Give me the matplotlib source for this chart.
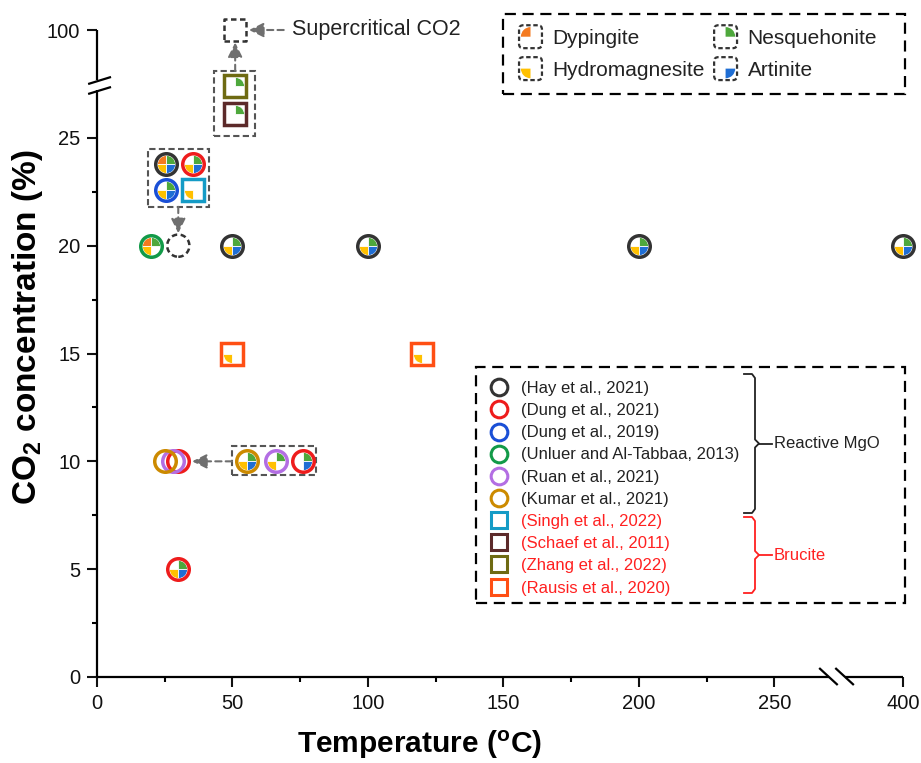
import numpy as np
import matplotlib
matplotlib.use("Agg")
import matplotlib.pyplot as plt
from matplotlib.path import Path
from matplotlib.lines import Line2D
from matplotlib.patches import Rectangle, Wedge, FancyBboxPatch
from matplotlib.legend_handler import HandlerBase

plt.rcParams['font.family'] = ['Liberation Sans', 'DejaVu Sans']
plt.rcParams['mathtext.fontset'] = 'custom'
plt.rcParams['mathtext.rm'] = 'Liberation Sans'
plt.rcParams['mathtext.bf'] = 'Liberation Sans:bold'

# studies, in legend order
studies = ["(Hay et al., 2021)", "(Dung et al., 2021)", "(Dung et al., 2019)",
           "(Unluer and Al-Tabbaa, 2013)", "(Ruan et al., 2021)", "(Kumar et al., 2021)",
           "(Singh et al., 2022)", "(Schaef et al., 2011)", "(Zhang et al., 2022)",
           "(Rausis et al., 2020)"]
study_colors = ["#333333", "#ee1c1c", "#1a4fd6", "#129a48", "#b36ee3", "#cc8a00",
                "#149bc6", "#5c2a2a", "#6e6a12", "#ff4f14"]
study_markers = ["o"] * 6 + ["s"] * 4
groups = ["Reactive MgO", "Brucite"]
group_size = [6, 4]
group_colors = ["#222222", "#ff2020"]

# carbonate phases: D dypingite, N nesquehonite, H hydromagnesite, A artinite
phase_codes = ["D", "N", "H", "A"]
phase_names = ["Dypingite", "Nesquehonite", "Hydromagnesite", "Artinite"]
phase_colors = ["#f47a20", "#4ea83c", "#ffc000", "#1f6ed4"]

# points: study index, temperature (C), CO2 (%), phases formed
pt_study = [0, 0, 0, 0, 0, 1, 1, 1, 1, 2, 3, 4, 4, 5, 5, 6, 7, 8, 9, 9]
pt_temp = [25.5, 50, 100, 200, 400, 35.5, 30, 76, 30, 25.5, 20, 66, 28, 55.5, 25,
           35.5, 51, 51, 50, 120]
pt_co2 = [23.8, 20, 20, 20, 20, 23.8, 5, 10, 10, 22.6, 20, 10, 10, 10, 10,
          22.6, 26.1, 27.4, 15, 15]
pt_phases = ["DNHA", "NHA", "NHA", "NHA", "NHA", "NHA", "NHA", "NA", "", "NHA", "DNH",
             "NH", "", "NHA", "", "H", "N", "N", "H", "H"]

# grouped conditions (dashed outlines)
grp_temp = [30, 51]
grp_co2 = [20, 100]
grp_marker = ["o", "s"]

# quadrant of each phase in the pie markers
quad = {"D": (90, 180), "N": (0, 90), "H": (180, 270), "A": (270, 360)}

# broken axes: linear up to the break, compressed after it
X_BRK, X_K = 265.0, 32.5 / 135.0
Y_BRK, Y_K = 28.5, 1.5 / 71.5


def fx(x):
    x = np.asarray(x, float)
    return np.where(x <= X_BRK, x, X_BRK + (x - X_BRK) * X_K)


def gx(u):
    u = np.asarray(u, float)
    return np.where(u <= X_BRK, u, X_BRK + (u - X_BRK) / X_K)


def fy(y):
    y = np.asarray(y, float)
    return np.where(y <= Y_BRK, y, Y_BRK + (y - Y_BRK) * Y_K)


def gy(u):
    u = np.asarray(u, float)
    return np.where(u <= Y_BRK, u, Y_BRK + (u - Y_BRK) / Y_K)


fig = plt.figure(figsize=(9.21, 7.63), dpi=100)
ax = fig.add_axes([97 / 921, 1 - 677 / 763, 806 / 921, 647 / 763])
ax.set_xscale('function', functions=(fx, gx))
ax.set_yscale('function', functions=(fy, gy))
ax.set_xlim(0, 400)
ax.set_ylim(0, 100)

for sp in ax.spines.values():
    sp.set_visible(False)

xt = [0, 50, 100, 150, 200, 250, 400]
yt = [0, 5, 10, 15, 20, 25, 100]
ax.set_xticks(xt)
ax.set_xticklabels([str(v) for v in xt])
ax.set_yticks(yt)
ax.set_yticklabels([str(v) for v in yt])
ax.set_xticks([25, 75, 125, 175, 225], minor=True)
ax.set_yticks([2.5, 7.5, 12.5, 17.5, 22.5], minor=True)
ax.tick_params(which='major', length=7, width=1.5, labelsize=14.5, pad=5, colors='#111111')
ax.tick_params(which='minor', length=3.5, width=1.5)

# axis lines with break marks
ln = dict(transform=ax.transAxes, color='black', lw=1.6, clip_on=False, solid_capstyle='butt')
ax.plot([0, 0.908], [0, 0], **ln)
ax.plot([0.928, 1.0], [0, 0], **ln)
ax.plot([0.896, 0.919], [0.0139, -0.0124], **ln)
ax.plot([0.916, 0.939], [0.0139, -0.0124], **ln)
ax.plot([0, 0], [0, 0.9073], **ln)
ax.plot([0, 0], [0.9227, 1.0], **ln)
ax.plot([-0.011, 0.0174], [0.9165, 0.9274], **ln)
ax.plot([-0.011, 0.0174], [0.9011, 0.9119], **ln)

ax.set_xlabel(r'Temperature ($\mathregular{^o}$C)', fontsize=21.5, fontweight='bold')
ax.xaxis.label.set_va('center')
ax.xaxis.set_label_coords(0.40, (677 - 745) / 647)
ax.set_ylabel(r'CO$\mathregular{_2}$ concentration (%)', fontsize=24, fontweight='bold')
ax.yaxis.label.set_va('center')
ax.yaxis.set_label_coords((28 - 97) / 806, 0.541)

# pie markers with an outline ring per study
wedge_paths = {c: Path.wedge(a0, a1) for c, (a0, a1) in quad.items()}
for s, t, c, ph in zip(pt_study, pt_temp, pt_co2, pt_phases):
    for code in ph:
        k = phase_codes.index(code)
        ax.plot(t, c, ls='none', marker=wedge_paths[code], ms=13, mfc=phase_colors[k],
                mec='white', mew=0.6, clip_on=False, zorder=4)
    ax.plot(t, c, ls='none', marker=study_markers[s], ms=15.5, mfc='none',
            mec=study_colors[s], mew=2.5, clip_on=False, zorder=5)

for t, c, m in zip(grp_temp, grp_co2, grp_marker):
    ax.scatter([t], [c], s=16 ** 2, marker=m, facecolors='none', edgecolors='#333333',
               linewidths=1.8, linestyle=(0, (2.2, 1.4)), clip_on=False, zorder=5)

# dashed frames around zoomed groups
box_kw = dict(fill=False, ec='#555555', lw=1.5, ls=(0, (3, 1.6)), zorder=3, clip_on=False)
ax.add_patch(Rectangle((18.8, 21.8), 41.3 - 18.8, 24.5 - 21.8, **box_kw))
ax.add_patch(Rectangle((43.2, 25.1), 58.3 - 43.2, 28.1 - 25.1, **box_kw))
ax.add_patch(Rectangle((49.8, 9.37), 80.8 - 49.8, 10.71 - 9.37, **box_kw))

arr = dict(arrowstyle='-|>', color='#6f6f6f', lw=1.5, ls=(0, (3, 2)), mutation_scale=22,
           shrinkA=0)
ax.annotate('', xy=(30, 20), xytext=(30, 21.8), arrowprops=dict(arr, shrinkB=9), zorder=3)
ax.annotate('', xy=(51, 100), xytext=(51, 28.1), arrowprops=dict(arr, shrinkB=9), zorder=3)
ax.annotate('', xy=(30, 10), xytext=(49.8, 10), arrowprops=dict(arr, shrinkB=10), zorder=3)
ax.annotate('Supercritical CO2', xy=(51, 100), xytext=(72, 100), ha='left', va='center',
            fontsize=15.5, color='#222222', arrowprops=dict(arr, shrinkB=10, shrinkA=4),
            annotation_clip=False)


# phase legend with dashed square icons
class PhaseIcon(HandlerBase):
    def create_artists(self, legend, orig_handle, xdescent, ydescent, width, height,
                       fontsize, trans):
        size = 16.5
        cx = width / 2 - xdescent
        cy = height / 2 - ydescent
        w = Wedge((cx, cy), size * 0.42, orig_handle.theta1, orig_handle.theta2,
                  fc=orig_handle.get_facecolor(), ec='none', transform=trans)
        b = FancyBboxPatch((cx - size / 2, cy - size / 2), size, size,
                           boxstyle="round,pad=0,rounding_size=3", fill=False,
                           ec='#333333', lw=1.6, ls=(0, (2, 1.2)), transform=trans)
        return [w, b]


phase_handles = [Wedge((0, 0), 1, *quad[c], facecolor=col)
                 for c, col in zip(phase_codes, phase_colors)]
order = [0, 2, 1, 3]
leg1 = fig.legend([phase_handles[i] for i in order], [phase_names[i] for i in order],
                  handler_map={Wedge: PhaseIcon()}, ncol=2, loc='upper left',
                  bbox_to_anchor=(518 / 921, 1 - 29 / 763), frameon=False, fontsize=15,
                  borderpad=0, borderaxespad=0, handlelength=1.2, handletextpad=0.45,
                  columnspacing=0.4, labelspacing=0.62)
for t in leg1.get_texts():
    t.set_color('#222222')

# study legend
study_handles = [Line2D([], [], ls='none', marker=m, ms=12, mfc='none', mec=c, mew=2.2)
                 for m, c in zip(study_markers, study_colors)]
text_cols = [group_colors[0]] * group_size[0] + [group_colors[1]] * group_size[1]
leg2 = fig.legend(study_handles, studies, loc='upper left',
                  bbox_to_anchor=(489 / 921, 1 - 381 / 763), frameon=False, fontsize=12,
                  borderpad=0, borderaxespad=0, handlelength=1.2, handletextpad=0.7,
                  labelspacing=0.43, labelcolor=text_cols)

# dashed frames of both legends
frame_kw = dict(fill=False, ec='black', lw=1.6, ls=(0, (5, 3)), transform=fig.transFigure)
fig.add_artist(Rectangle((503 / 921, 1 - 94 / 763), 402 / 921, 80 / 763, **frame_kw))
fig.add_artist(Rectangle((476 / 921, 1 - 603 / 763), 429 / 921, 236 / 763, **frame_kw))


def brace(x, top, bot, color, label):
    mid = (top + bot) / 2
    xs = [x - 11, x - 3, x, x, x + 4, x, x, x - 3, x - 11]
    ys = [top, top, top + 4, mid - 4, mid, mid + 4, bot - 4, bot, bot]
    fig.add_artist(Line2D(np.array(xs) / 921, 1 - np.array(ys) / 763, color=color, lw=1.3,
                          transform=fig.transFigure))
    fig.add_artist(Line2D(np.array([x + 4, x + 17]) / 921, 1 - np.array([mid, mid]) / 763,
                          color=color, lw=1.3, transform=fig.transFigure))
    fig.text((x + 19) / 921, 1 - mid / 763, label, color=color, fontsize=12, va='center',
             ha='left')


brace(755, 374, 513, group_colors[0], groups[0])
brace(755, 517, 593, group_colors[1], groups[1])

fig.savefig("out.png", dpi=100)
